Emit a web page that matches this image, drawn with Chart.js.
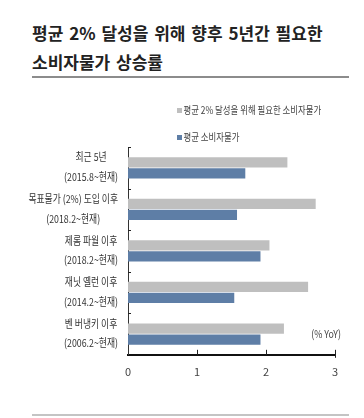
<!DOCTYPE html>
<html>
<head>
<meta charset="utf-8">
<script src="https://cdn.jsdelivr.net/npm/chart.js@4.4.1/dist/chart.umd.min.js"></script>
<style>
  html, body { margin: 0; padding: 0; background: #fff; }
  body { width: 364px; height: 418px; position: relative; overflow: hidden; }
  .title {
    position: absolute; left: 32px; top: 18px;
    font-family: "Noto Sans CJK KR", sans-serif; font-weight: bold;
    font-size: 17px; line-height: 29px; word-spacing: 2px; color: #222;
  }
  .rule { position: absolute; left: 32px; width: 317px; height: 2px; }
  #chart-wrap { position: absolute; left: 0; top: 0; width: 364px; height: 418px; }
</style>
</head>
<body>
<div class="title">평균 2% 달성을 위해 향후 5년간 필요한<br>소비자물가 상승률</div>
<div class="rule" style="top:76px;background:#8c8c8c;"></div>
<div class="rule" style="top:414px;background:#c4c4c4;"></div>
<div id="chart-wrap"><canvas id="chart"></canvas></div>
<script>
const categories = [
  ["최근 5년", "(2015.8~현재)"],
  ["목표물가 (2%) 도입 이후", "(2018.2~현재)"],
  ["제롬 파월 이후", "(2018.2~현재)"],
  ["재닛 옐런 이후", "(2014.2~현재)"],
  ["벤 버냉키 이후", "(2006.2~현재)"]
];
const seriesNames = ["평균 2% 달성을 위해 필요한 소비자물가", "평균 소비자물가"];
const requiredValues = [2.31, 2.72, 2.05, 2.61, 2.26];
const averageValues = [1.70, 1.58, 1.92, 1.54, 1.92];
const xTicks = [0, 1, 2, 3];
const unitLabel = "(% YoY)";

const FONT = '"Noto Sans CJK KR", sans-serif';

// draws condensed text like the original report font
function squeezeText(ctx, text, x, y, align, size, color) {
  const sx = 0.8;
  ctx.save();
  ctx.font = size + 'px ' + FONT;
  ctx.fillStyle = color;
  ctx.textBaseline = 'middle';
  const w = ctx.measureText(text).width * sx;
  let left = x;
  if (align === 'right') left = x - w;
  if (align === 'center') left = x - w / 2;
  ctx.translate(left, y);
  ctx.scale(sx, 1);
  ctx.textAlign = 'left';
  ctx.fillText(text, 0, 0);
  ctx.restore();
  return w;
}

const decorPlugin = {
  id: 'decor',
  afterDraw(chart) {
    const ctx = chart.ctx;
    const y = chart.scales.y;
    const x = chart.scales.x;
    const area = chart.chartArea;

    // category labels, block right aligned, lines centred
    ctx.save();
    ctx.font = '11px ' + FONT;
    categories.forEach((lines, i) => {
      const cy = y.getPixelForValue(i);
      const widths = lines.map(t => ctx.measureText(t).width * 0.8);
      const maxW = Math.max(...widths);
      const cx = 118 - maxW / 2;
      squeezeText(ctx, lines[0], cx, cy - 10.5, 'center', 11, '#333');
      squeezeText(ctx, lines[1], cx, cy + 9, 'center', 11, '#333');
    });
    ctx.restore();

    // tick marks inside the plot
    const step = y.getPixelForValue(1) - y.getPixelForValue(0);
    ctx.save();
    ctx.strokeStyle = '#222';
    ctx.lineWidth = 1;
    ctx.beginPath();
    for (let i = 0; i < categories.length; i++) {
      const by = Math.round(y.getPixelForValue(i) - step / 2) + 0.5;
      ctx.moveTo(area.left, by);
      ctx.lineTo(area.left + 3, by);
    }
    xTicks.slice(1).forEach(v => {
      const px = Math.round(x.getPixelForValue(v)) + 0.5;
      ctx.moveTo(px, area.bottom);
      ctx.lineTo(px, area.bottom - 5);
    });
    const px3 = Math.round(x.getPixelForValue(3)) + 0.5;
    ctx.moveTo(px3, area.bottom);
    ctx.lineTo(px3, area.bottom + 3);
    ctx.stroke();
    ctx.restore();

    // unit label
    squeezeText(ctx, unitLabel, x.getPixelForValue(3) + 6, area.bottom - 21, 'right', 11, '#444');

    // legend
    chart.data.datasets.forEach((ds, i) => {
      const ly = 110.5 + i * 27;
      ctx.save();
      ctx.fillStyle = ds.backgroundColor;
      ctx.fillRect(177, ly - 2.5, 5, 5);
      ctx.restore();
      squeezeText(ctx, ds.label, 183.5, ly, 'left', 10.5, '#444');
    });
  }
};

new Chart(document.getElementById('chart').getContext('2d'), {
  type: 'bar',
  data: {
    labels: categories,
    datasets: [
      {
        label: seriesNames[0],
        data: requiredValues,
        backgroundColor: '#bfbfbf',
        categoryPercentage: 0.53,
        barPercentage: 0.93
      },
      {
        label: seriesNames[1],
        data: averageValues,
        backgroundColor: '#5e7ea6',
        categoryPercentage: 0.53,
        barPercentage: 0.93
      }
    ]
  },
  options: {
    indexAxis: 'y',
    responsive: true,
    maintainAspectRatio: false,
    animation: false,
    layout: { padding: { left: 128, right: 29, top: 147, bottom: 30 } },
    plugins: {
      legend: { display: false },
      tooltip: { enabled: false }
    },
    scales: {
      x: {
        min: 0,
        max: 3,
        afterBuildTicks: axis => { axis.ticks = xTicks.map(v => ({ value: v })); },
        grid: { display: false, drawTicks: false },
        border: { display: true, color: '#111', width: 2 },
        ticks: {
          padding: 10,
          color: '#444',
          font: { family: FONT, size: 11 }
        }
      },
      y: {
        grid: { display: false, drawTicks: false },
        border: { display: true, color: '#333', width: 1 },
        ticks: { display: false }
      }
    }
  },
  plugins: [decorPlugin]
});
</script>
</body>
</html>
